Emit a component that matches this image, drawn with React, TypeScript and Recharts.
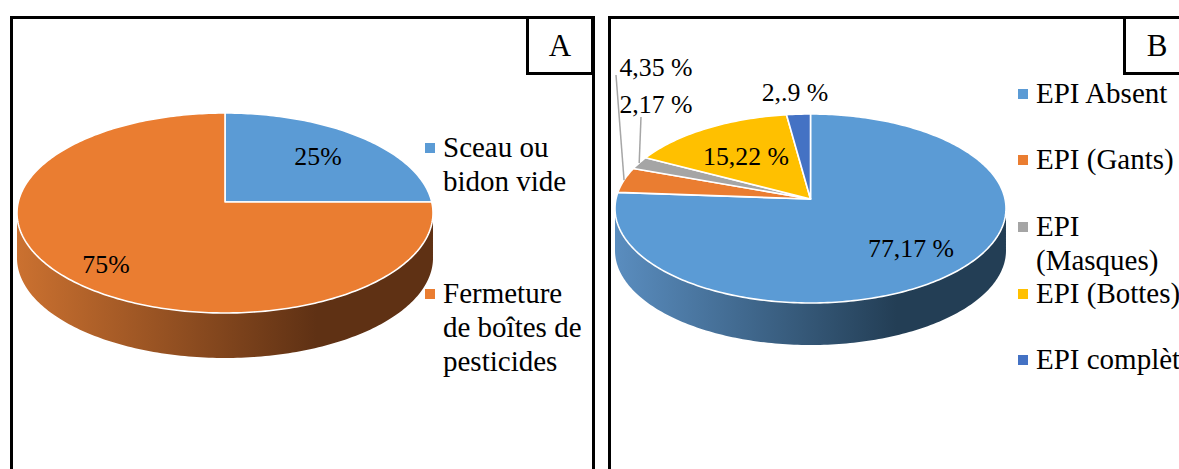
import { PieChart, Pie, Legend } from 'recharts';

// Panel A
const namesA = ['Sceau ou bidon vide', 'Fermeture de boîtes de pesticides'];
const valuesA = [25, 75];
const labelsA = ['25%', '75%'];
const colorsA = ['#5b9bd5', '#ea7d31'];

// Panel B: slice sizes as measured, the printed labels do not quite add up to 100
const namesB = ['EPI Absent', 'EPI (Gants)', 'EPI (Masques)', 'EPI (Bottes)', 'EPI complète'];
const valuesB = [76.3, 4.35, 2.17, 15.22, 2.17];
const labelsB = ['77,17 %', '4,35 %', '2,17 %', '15,22 %', '2,.9 %'];
const colorsB = ['#5b9bd5', '#ea7d31', '#a5a5a5', '#ffc000', '#4472c4'];

const FONT = '"Liberation Serif", "Times New Roman", serif';
const RAD = Math.PI / 180;
const NO_MARGIN = { top: 0, right: 0, bottom: 0, left: 0 };

const toRows = (names: string[], values: number[], colors: string[]) =>
  names.map((name, i) => ({ name, value: values[i], fill: colors[i] }));

interface Tilt {
  up: number; // apex to far edge
  down: number; // apex to near edge
  depth: number;
  from: string;
  to: string;
  id: string;
}

// perspective view of the unit circle, apex stays at (cx, cy)
function project(cx: number, cy: number, r: number, tilt: Tilt, angle: number) {
  const k = (tilt.down - tilt.up) / (tilt.down + tilt.up);
  const b = tilt.up * (1 + k);
  const a = r * Math.sqrt(1 - k * k);
  const u = Math.cos(angle * RAD);
  const v = Math.sin(angle * RAD);
  const w = 1 + k * v;
  return { x: cx + (a * u) / w, y: cy - (b * v) / w };
}

function makeShape(tilt: Tilt) {
  return function Sector3D(props: any) {
    const { cx, cy, outerRadius, startAngle, endAngle, fill } = props;
    const pts: { x: number; y: number }[] = [];
    const steps = Math.max(2, Math.ceil(Math.abs(endAngle - startAngle)));
    for (let i = 0; i <= steps; i++) {
      const angle = startAngle + ((endAngle - startAngle) * i) / steps;
      pts.push(project(cx, cy, outerRadius, tilt, angle));
    }
    const top = `M${cx},${cy}` + pts.map((p) => `L${p.x},${p.y}`).join('') + 'Z';

    // only the front part of the rim shows a wall
    const midY = cy + (tilt.down - tilt.up) / 2;
    const front = pts.filter((p) => p.y >= midY);
    let wall = '';
    if (front.length > 1) {
      wall =
        front.map((p, i) => `${i ? 'L' : 'M'}${p.x},${p.y}`).join('') +
        [...front].reverse().map((p) => `L${p.x},${p.y + tilt.depth}`).join('') +
        'Z';
    }

    return (
      <g>
        <defs>
          <linearGradient
            id={tilt.id}
            gradientUnits="userSpaceOnUse"
            x1={cx - outerRadius}
            x2={cx + outerRadius}
            y1={0}
            y2={0}
          >
            <stop offset="0%" stopColor={tilt.from} />
            <stop offset="72%" stopColor={tilt.to} />
            <stop offset="100%" stopColor={tilt.to} />
          </linearGradient>
        </defs>
        {wall && <path d={wall} fill={`url(#${tilt.id})`} stroke="none" />}
        <path d={top} fill={fill} stroke="#fff" strokeWidth={1.6} strokeLinejoin="round" />
      </g>
    );
  };
}

function makeLabel(
  texts: string[],
  spots: { x: number; y: number }[],
  tilt: Tilt,
  leaders: Record<number, { x: number; y: number }> = {},
) {
  return function SliceLabel(props: any) {
    const { index, cx, cy, outerRadius, midAngle } = props;
    const spot = spots[index];
    const start = leaders[index];
    const end = start ? project(cx, cy, outerRadius, tilt, midAngle) : null;
    return (
      <g>
        {start && end && (
          <line x1={start.x} y1={start.y} x2={end.x} y2={end.y} stroke="#a6a6a6" strokeWidth={1.5} />
        )}
        <text
          x={spot.x}
          y={spot.y}
          textAnchor="middle"
          dominantBaseline="central"
          fontFamily={FONT}
          fontSize={25.8}
          fill="#000"
        >
          {texts[index]}
        </text>
      </g>
    );
  };
}

function makeLegend(left: number, width: number, tops: number[]) {
  return function PanelLegend({ payload }: any) {
    return (
      <div style={{ position: 'relative', fontFamily: FONT, fontSize: 29, lineHeight: '34px', color: '#000' }}>
        {(payload ?? []).map((entry: any, i: number) => (
          <div key={entry.value} style={{ position: 'absolute', left: 0, top: tops[i], width: width + left }}>
            <span
              style={{
                position: 'absolute',
                left: 0,
                top: 13,
                width: 10,
                height: 10,
                background: entry.color,
              }}
            />
            <div style={{ marginLeft: left, width }}>{entry.value}</div>
          </div>
        ))}
      </div>
    );
  };
}

const tiltA: Tilt = { up: 89, down: 111, depth: 45, from: '#cb7130', to: '#5f3114', id: 'wallA' };
const tiltB: Tilt = { up: 85, down: 104, depth: 42, from: '#5a8dbf', to: '#233e55', id: 'wallB' };

const spotsA = [
  { x: 318, y: 156 },
  { x: 106, y: 264 },
];
const spotsB = [
  { x: 311, y: 248 },
  { x: 56, y: 67 },
  { x: 56, y: 104 },
  { x: 146, y: 156 },
  { x: 195, y: 92 },
];
const leadersB = {
  1: { x: 16, y: 75 },
  2: { x: 41, y: 117 },
};

const frame = (left: number, width: number): React.CSSProperties => ({
  position: 'absolute',
  left,
  top: 16,
  width,
  height: 480,
  border: '3px solid #000',
  boxSizing: 'border-box',
});

const tag = (left: number): React.CSSProperties => ({
  position: 'absolute',
  left,
  top: 16,
  width: 68,
  height: 59,
  border: '3px solid #000',
  boxSizing: 'border-box',
  background: '#fff',
  fontFamily: FONT,
  fontSize: 31,
  lineHeight: '54px',
  textAlign: 'center',
  color: '#000',
});

export default function App() {
  return (
    <div
      style={{
        position: 'fixed',
        left: 0,
        top: 0,
        width: 1179,
        height: 469,
        overflow: 'hidden',
        background: '#fff',
      }}
    >
      <div style={frame(10, 585)} />
      <div style={frame(608, 700)} />

      <div style={{ position: 'absolute', left: 0, top: 0 }}>
        <PieChart width={600} height={469} margin={NO_MARGIN}>
          <Pie
            data={toRows(namesA, valuesA, colorsA)}
            dataKey="value"
            nameKey="name"
            cx={225}
            cy={202}
            outerRadius={208}
            startAngle={90}
            endAngle={-270}
            stroke="#fff"
            shape={makeShape(tiltA)}
            label={makeLabel(labelsA, spotsA, tiltA)}
            labelLine={false}
            isAnimationActive={false}
          />
          <Legend
            itemSorter={null}
            content={makeLegend(18, 145, [130, 276])}
            wrapperStyle={{ left: 425, top: 0, width: 170, height: 0 }}
          />
        </PieChart>
      </div>

      <div style={{ position: 'absolute', left: 600, top: 0 }}>
        <PieChart width={579} height={469} margin={NO_MARGIN}>
          <Pie
            data={toRows(namesB, valuesB, colorsB)}
            dataKey="value"
            nameKey="name"
            cx={210.5}
            cy={199}
            outerRadius={195.5}
            startAngle={90}
            endAngle={-270}
            stroke="#fff"
            shape={makeShape(tiltB)}
            label={makeLabel(labelsB, spotsB, tiltB, leadersB)}
            labelLine={false}
            isAnimationActive={false}
          />
          <Legend
            itemSorter={null}
            content={makeLegend(18, 160, [76, 142, 209, 276, 342])}
            wrapperStyle={{ left: 418, top: 0, width: 178, height: 0 }}
          />
        </PieChart>
      </div>

      <div style={tag(526)}>A</div>
      <div style={tag(1123)}>B</div>
    </div>
  );
}
